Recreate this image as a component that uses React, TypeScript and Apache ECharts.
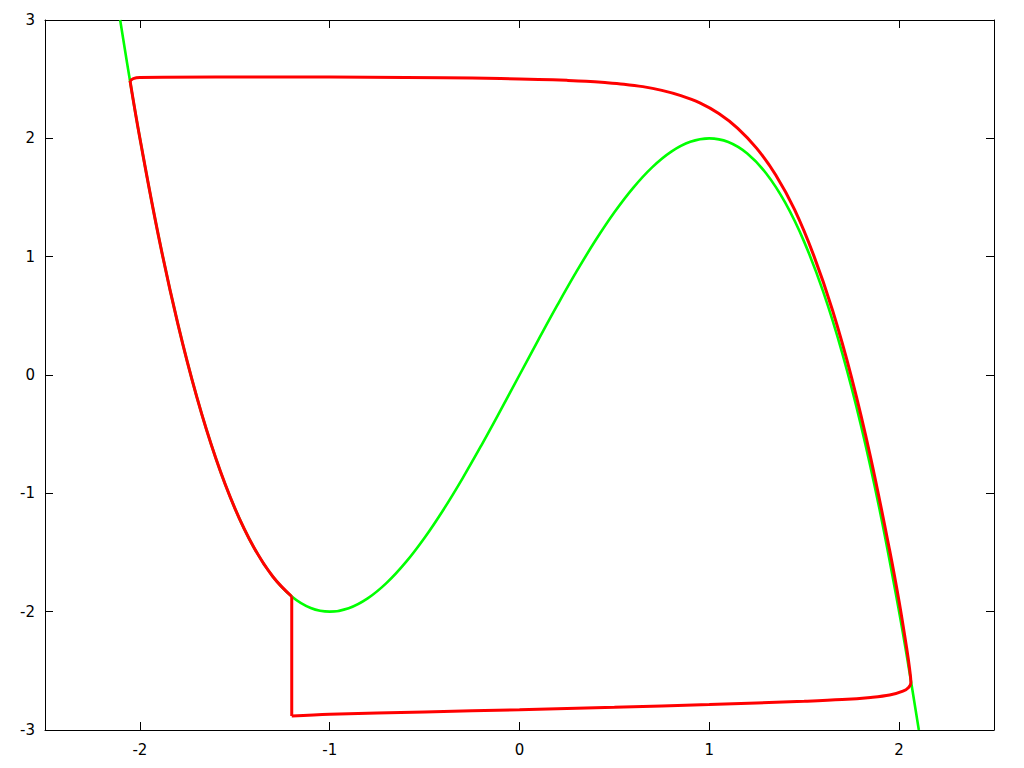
import React, { useEffect, useRef } from "react";
import * as echarts from "echarts";

// Green curve (nullcline) points: [x, y]
const greenX = [-2.104, -2.05, -2.0, -1.9, -1.8, -1.7, -1.6, -1.5, -1.4, -1.3, -1.2, -1.1, -1.0, -0.9, -0.8, -0.7, -0.6, -0.5, -0.4, -0.3, -0.2, -0.1, 0.0, 0.1, 0.2, 0.3, 0.4, 0.5, 0.6, 0.7, 0.8, 0.9, 1.0, 1.1, 1.2, 1.3, 1.4, 1.5, 1.6, 1.7, 1.8, 1.9, 2.0, 2.05, 2.104];
const greenY = [3.0, 2.465, 2.0, 1.159, 0.432, -0.187, -0.704, -1.125, -1.456, -1.703, -1.872, -1.969, -2.0, -1.971, -1.888, -1.757, -1.584, -1.375, -1.136, -0.873, -0.592, -0.299, 0.0, 0.299, 0.592, 0.873, 1.136, 1.375, 1.584, 1.757, 1.888, 1.971, 2.0, 1.969, 1.872, 1.703, 1.456, 1.125, 0.704, 0.187, -0.432, -1.159, -2.0, -2.465, -3.0];

// Red trajectory, part 1: bottom edge -> right branch -> top edge
const redAX = [-1.2, -1.0, -0.5, 0.0, 0.5, 1.0, 1.5, 1.7, 1.85, 1.95, 2.02, 2.05, 2.062, 2.055, 2.04, 2.0, 1.95, 1.85, 1.75, 1.65, 1.55, 1.45, 1.35, 1.25, 1.15, 1.05, 0.95, 0.85, 0.75, 0.65, 0.55, 0.45, 0.35, 0.25, 0.1, -0.1, -0.4, -0.8, -1.2, -1.6, -2.0, -2.035, -2.052];
const redAY = [-2.882, -2.867, -2.847, -2.829, -2.808, -2.785, -2.757, -2.743, -2.725, -2.705, -2.672, -2.64, -2.6, -2.48, -2.31, -1.915, -1.48, -0.697, -0.024, 0.543, 1.011, 1.395, 1.69, 1.915, 2.085, 2.21, 2.3, 2.361, 2.405, 2.437, 2.458, 2.472, 2.483, 2.49, 2.498, 2.505, 2.512, 2.517, 2.518, 2.518, 2.514, 2.505, 2.486];

// Red trajectory, part 2: down the left branch
const redBX = [-2.052, -2.0, -1.9, -1.8, -1.7, -1.6, -1.5, -1.4, -1.3, -1.2];
const redBY = [2.486, 2.0, 1.159, 0.432, -0.187, -0.704, -1.125, -1.456, -1.703, -1.872];

// Red trajectory, part 3: vertical jump
const jumpX = [-1.2, -1.2];
const jumpY = [-1.872, -2.882];

const xTicks = [-2, -1, 0, 1, 2];
const yTicks = [-3, -2, -1, 0, 1, 2, 3];

const zip = (xs: number[], ys: number[]) => xs.map((x, i) => [x, ys[i]]);

export default function App() {
  const ref = useRef<HTMLDivElement>(null);
  useEffect(() => {
    document.body.style.margin = "0";
    if (!ref.current) return;
    const chart = echarts.init(ref.current, undefined, { renderer: "svg" });
    const font = "DejaVu Sans";
    const labelStyle = { color: "#000", fontSize: 15, fontFamily: font };
    const axisLine = { show: true, onZero: false, lineStyle: { color: "#000", width: 1 } };
    const tick = (vals: number[]) => ({
      show: true,
      inside: true,
      length: 8,
      customValues: vals,
      lineStyle: { color: "#000", width: 1 },
    });
    const redLine = { color: "#ff0000", width: 3 };
    chart.setOption({
      animation: false,
      backgroundColor: "#fff",
      grid: { left: 45, right: 30, top: 20, bottom: 38, containLabel: false },
      xAxis: [
        {
          type: "value",
          min: -2.5,
          max: 2.5,
          interval: 0.5,
          position: "bottom",
          axisLine,
          axisTick: tick(xTicks),
          axisLabel: { ...labelStyle, margin: 12, customValues: xTicks, formatter: (v: number) => String(v) },
          splitLine: { show: false },
        },
        {
          type: "value",
          min: -2.5,
          max: 2.5,
          interval: 0.5,
          position: "top",
          axisLine,
          axisTick: tick(xTicks),
          axisLabel: { show: false },
          splitLine: { show: false },
        },
      ],
      yAxis: [
        {
          type: "value",
          min: -3,
          max: 3,
          interval: 1,
          position: "left",
          axisLine,
          axisTick: tick(yTicks),
          axisLabel: { ...labelStyle, margin: 10, customValues: yTicks },
          splitLine: { show: false },
        },
        {
          type: "value",
          min: -3,
          max: 3,
          interval: 1,
          position: "right",
          axisLine,
          axisTick: tick(yTicks),
          axisLabel: { show: false },
          splitLine: { show: false },
        },
      ],
      series: [
        {
          type: "line",
          data: zip(greenX, greenY),
          smooth: 0.4,
          showSymbol: false,
          clip: true,
          lineStyle: { color: "#00ff00", width: 2.6 },
          z: 2,
        },
        {
          type: "line",
          data: zip(redAX, redAY),
          smooth: 0.35,
          showSymbol: false,
          clip: true,
          lineStyle: redLine,
          z: 3,
        },
        {
          type: "line",
          data: zip(redBX, redBY),
          smooth: 0.4,
          showSymbol: false,
          clip: true,
          lineStyle: redLine,
          z: 3,
        },
        {
          type: "line",
          data: zip(jumpX, jumpY),
          smooth: false,
          showSymbol: false,
          clip: true,
          lineStyle: redLine,
          z: 3,
        },
      ],
    });
    return () => chart.dispose();
  }, []);
  return <div ref={ref} style={{ width: 1024, height: 768 }} />;
}
